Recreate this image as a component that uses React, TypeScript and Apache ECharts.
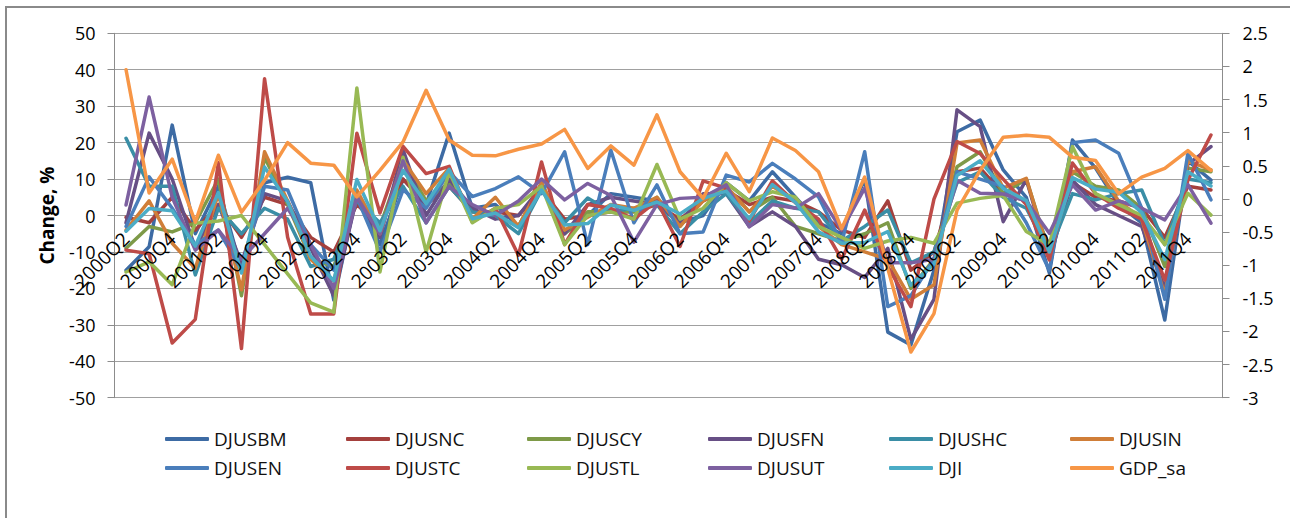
import React, { useEffect, useRef } from "react";
import * as echarts from "echarts";

const quarters: string[] = [
  "2000Q2", "2000Q3", "2000Q4",
  "2001Q1", "2001Q2", "2001Q3", "2001Q4",
  "2002Q1", "2002Q2", "2002Q3", "2002Q4",
  "2003Q1", "2003Q2", "2003Q3", "2003Q4",
  "2004Q1", "2004Q2", "2004Q3", "2004Q4",
  "2005Q1", "2005Q2", "2005Q3", "2005Q4",
  "2006Q1", "2006Q2", "2006Q3", "2006Q4",
  "2007Q1", "2007Q2", "2007Q3", "2007Q4",
  "2008Q1", "2008Q2", "2008Q3", "2008Q4",
  "2009Q1", "2009Q2", "2009Q3", "2009Q4",
  "2010Q1", "2010Q2", "2010Q3", "2010Q4",
  "2011Q1", "2011Q2", "2011Q3", "2011Q4",
  "2012Q1",
];

const DJUSBM = [-15, -8.6, 24.8, -5, 8, -15, 9, 10.5, 9, -23.2,
  6, -8, 10, 3, 22.6, 2, 3, -3, 8, -5,
  0, 6, 5, 4, -2, 0, 9, 4, 12, 5,
  -2, -5, 10, -32, -35.5, -15, 23, 26.2, 12.5, 5,
  -15.8, 20.7, 13, 3, -2, -28.7, 15, 9.7];
const DJUSNC = [-0.5, -2, 5, -4, 3, -6, 5, 3, -6, -10,
  3, -3, 10, 3, 8, 1, 1, 0, 7, -1,
  0, 1, 1, 3, -1, 4, 7, 3, 5, 4,
  1, -4, -6, 4, -15, -10, 12, 13, 6, 4,
  -8, 9, 5, 4, 2, -6, 8, 7];
const DJUSCY = [-9, -3, -4.5, -2, 10, -22, 16, 3, -12, -14,
  5, -3, 15, 4, 9, 1, 0, -3, 9, -5,
  1, 1, 1, 5, -3, 5, 8, 1, 5, -3,
  -5, -7, -5, -2, -20, -12, 13.4, 17.5, 6, 10,
  -10, 12, 8, 7, 2, -14, 13, 12];
const DJUSFN = [-2, 22.6, 10, -9, 3, -13, 6, 4, -9, -22,
  5, -6, 18, 0, 10, 2, -1, 0, 8, -5,
  3, 5, 4, 3, -2, 6, 6, -3, 1, -3,
  -12, -13.5, -17, -9, -34, -23, 29, 24.4, -1.7, 9.9,
  -12, 9.7, 3, 0, -3, -20, 14, 18.9];
const DJUSHC = [21.2, 8, 8, -16.3, 2, -5, 2, -1, -14, -12,
  4, -2, 8, -2, 8, 1, 0, -5, 7, -2,
  4.8, 1, 2, 3, -5, 1, 6, -2, 4, 2,
  1, -7, -3, 1.5, -13, -10, 9, 12, 5, 2,
  -10, 6, 4.3, 6, 7, -8, 10, 9];
const DJUSIN = [-4, 4, -7.6, -14.5, 6, -20.4, 17.5, 4, -12, -18,
  7, -5, 15.2, 6, 13, -1, 5, -3, 9, -4,
  -0.5, 3, 2, 5, -3, 4, 8, 1, 8, 4,
  -3, -8, -10, -12, -23, -19, 19.9, 20.7, 7.5, 10.2,
  -11, 12, 13.4, 4, -1, -21.8, 15, 12.5];
const DJUSEN = [-3, 10.6, 2, -8, -4, -15, 8, 7, -8, -15,
  5, -10, 7, 2, 12, 5.2, 7.4, 10.6, 6, 17.5,
  -8, 18, -2, 8.4, -5, -4.5, 11.1, 9.2, 14.3, 10,
  5.1, -7.6, 17.5, -25, -22, -12, 12, 10, 8, -2,
  -15, 20, 20.7, 17.1, 2, -23, 17.1, 4.3];
const DJUSTC = [-9.5, -10.5, -35, -28.5, 14.5, -36.5, 37.5, -6, -27, -27,
  22.6, 0.7, 19, 11.5, 13.5, -1.8, 2, -10.9, 14.7, -8,
  3, 2, -1, 4, -8.5, 9.5, 7.5, -1.5, 9.5, 3.5,
  -1, -12, 1.5, -14, -25, 4.5, 20.3, 17, 10, 3,
  -12.2, 14.4, 6, 2, -1, -17.7, 9.7, 22.1];
const DJUSTL = [-15.5, -12.7, -19, -2.1, -1.5, 0, -8, -16, -24, -26.5,
  35, -15.5, 16, -10, 12, -2, 2, 3, 8, -8,
  0, 1, -1, 14, -1, 2, 9, 4, 6.5, 5,
  -3, -6, -9, -7, -6, -7.6, 3.4, 4.7, 5.5, -4.4,
  -8.1, 18.9, 6, 3, 0, -8, 6.1, 0.1];
const DJUSUT = [2.9, 32.5, 5, -9.5, -4, -12, -5, 2, -8, -20,
  5, -5, 15, -2, 8, 3, 0, 4, 10, 4.3,
  8.8, 5.5, -7.3, 3, 4.7, 5, 8.4, -3.1, 3, 2,
  6, -4, 7.5, -13, -13, -12, 9.7, 6.1, 5.9, 4,
  -4.9, 8.4, 1.5, 4, 2, -1.2, 8.5, -2.1];
const DJI = [-4.3, 1.9, 1.3, -8.4, 6.3, -15.8, 13.3, 3.8, -11.2, -17.9,
  9.9, -4.2, 12.4, 3.2, 12.7, -0.9, 0.7, -3.4, 7.0, -2.6,
  -2.2, 2.9, 1.4, 3.7, 0.4, 4.7, 6.7, -0.9, 8.5, 3.6,
  -4.5, -7.6, -7.4, -4.4, -19.1, -13.3, 11.0, 15.0, 7.4, 4.1,
  -10.0, 10.4, 7.3, 6.4, 0.8, -12.1, 12.0, 8.1];
const GDP_sa = [1.95, 0.09, 0.6, -0.35, 0.66, -0.2, 0.28, 0.85, 0.54, 0.51,
  0.03, 0.43, 0.86, 1.64, 0.89, 0.66, 0.65, 0.75, 0.83, 1.05,
  0.46, 0.8, 0.51, 1.27, 0.41, 0.01, 0.69, 0.11, 0.92, 0.73,
  0.41, -0.45, 0.33, -1.05, -2.31, -1.73, -0.17, 0.43, 0.93, 0.96,
  0.93, 0.63, 0.58, 0.08, 0.33, 0.46, 0.73, 0.43];

const seriesNames = ["DJUSBM", "DJUSNC", "DJUSCY", "DJUSFN", "DJUSHC", "DJUSIN",
  "DJUSEN", "DJUSTC", "DJUSTL", "DJUSUT", "DJI", "GDP_sa"];
const seriesData = [DJUSBM, DJUSNC, DJUSCY, DJUSFN, DJUSHC, DJUSIN,
  DJUSEN, DJUSTC, DJUSTL, DJUSUT, DJI, GDP_sa];
const seriesColors = ["#3D6BA4", "#A4403D", "#7E9A48", "#674F85", "#3A8EA6", "#D07E38",
  "#4A7EBB", "#BE4B48", "#98B954", "#7D60A0", "#4BACC6", "#F79646"];
const rightAxisSeries = ["GDP_sa"];

const FONT = "'Open Sans', 'Noto Sans', sans-serif";

export default function App() {
  const ref = useRef<HTMLDivElement>(null);
  useEffect(() => {
    if (!ref.current) return;
    const chart = echarts.init(ref.current, undefined, { renderer: "svg" });
    const gridTop = 33.3;
    const gridBottom = 120.3;
    const plotH = 518 - gridTop - gridBottom;
    const zeroOffset = -plotH / 2; // category axis crosses the value axis at 0
    const legendCols = [165, 346, 527, 708, 889, 1070];
    const legendRows = [429, 458];
    const legends = seriesNames.map((name, i) => ({
      data: [name],
      left: legendCols[i % 6],
      top: legendRows[Math.floor(i / 6)],
      padding: 0,
      itemGap: 0,
      itemWidth: 44,
      itemHeight: 4,
      icon: "roundRect",
      textStyle: { fontFamily: FONT, fontSize: 19, color: "#111", lineHeight: 20 },
    }));
    chart.setOption({
      animation: false,
      color: seriesColors,
      backgroundColor: "#fff",
      grid: { left: 114.5, right: 67.5, top: gridTop, bottom: gridBottom, containLabel: false },
      legend: legends,
      xAxis: {
        type: "category",
        data: quarters,
        boundaryGap: true,
        offset: zeroOffset,
        z: 10,
        axisLine: { show: false, onZero: false },
        axisTick: { show: false },
        axisLabel: { interval: 1, rotate: 45, fontFamily: FONT, fontSize: 19, color: "#000", margin: 20 },
        splitLine: { show: false },
      },
      yAxis: [
        {
          type: "value", min: -50, max: 50, interval: 10, position: "left",
          name: "Change, %", nameLocation: "middle", nameRotate: 90, nameGap: 58,
          nameTextStyle: { fontFamily: FONT, fontSize: 19, fontWeight: "bold", color: "#000" },
          axisLine: { show: true, lineStyle: { color: "#8c8c8c", width: 1 } },
          axisTick: { show: true, length: 7, lineStyle: { color: "#8c8c8c" } },
          axisLabel: { fontFamily: FONT, fontSize: 18, color: "#000", margin: 19 },
          splitLine: { show: true, lineStyle: { color: "#a0a0a0", width: 1 } },
        },
        {
          type: "value", min: -3, max: 2.5, interval: 0.5, position: "right",
          axisLine: { show: true, lineStyle: { color: "#8c8c8c", width: 1 } },
          axisTick: { show: true, length: 7, lineStyle: { color: "#8c8c8c" } },
          axisLabel: { fontFamily: FONT, fontSize: 18, color: "#000", margin: 20 },
          splitLine: { show: false },
        },
      ],
      graphic: [
        {
          type: "rect", silent: true, z: -1,
          shape: { x: 6, y: 7, width: 1320, height: 540 },
          style: { fill: "none", stroke: "#8a8a8a", lineWidth: 2 },
        },
      ],
      series: seriesNames.map((name, i) => ({
        name,
        type: "line",
        data: seriesData[i],
        yAxisIndex: rightAxisSeries.includes(name) ? 1 : 0,
        symbol: "none",
        lineStyle: { width: 3.5, color: seriesColors[i], cap: "round", join: "round" },
        itemStyle: { color: seriesColors[i] },
        emphasis: { disabled: true },
      })),
    });
    return () => chart.dispose();
  }, []);
  return (
    <div
      ref={ref}
      style={{ position: "absolute", left: 0, top: 0, width: 1290, height: 518 }}
    />
  );
}
